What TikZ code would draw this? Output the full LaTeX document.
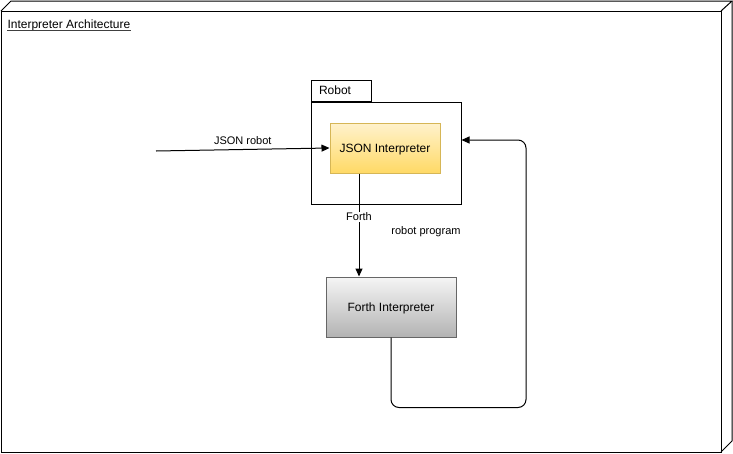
\documentclass[tikz,border=0pt]{standalone}
\usepackage{fontspec}
\setmainfont{Liberation Sans}
\usepackage{xcolor}
\usepackage{tikz}
\usetikzlibrary{arrows.meta,positioning,calc}

\definecolor{jsonfill}{HTML}{FFF2CC}
\definecolor{jsongrad}{HTML}{FFD966}
\definecolor{jsonline}{HTML}{D6B656}
\definecolor{forthfill}{HTML}{F5F5F5}
\definecolor{forthgrad}{HTML}{B3B3B3}
\definecolor{forthline}{HTML}{666666}

\begin{document}
\begin{tikzpicture}[
            x=1pt, y=-1pt, line width=1pt,
            box/.style={draw, rectangle, align=center, text depth=0pt, font=\fontsize{12}{14}\selectfont},
            pkg/.style={draw, rectangle, inner sep=0pt},
            lbl/.style={font=\fontsize{11}{13}\selectfont, text depth=0pt, inner sep=1pt},
            arr/.style={-{Triangle[length=8pt,width=7pt]}}
            ]
            \useasboundingbox (0,0) rectangle (733,453);

            % Outer node (3D box)
            \draw (1,11) rectangle (721,452);
            \draw (1,11) -- (11,1) -- (732,1) -- (721,11);
            \draw (732,1) -- (732,441) -- (721,452);
            \node[anchor=west, font=\fontsize{12}{14}\selectfont, text depth=0pt, inner sep=0pt] (title) at (7,24) {Interpreter Architecture};
            \draw[line width=0.8pt, black!75] ([yshift=-2pt]title.south west) -- ([yshift=-2pt]title.south east);

            % Robot package
            \node[pkg, minimum width=150pt, minimum height=102pt] (body) at (386,153) {};
            \node[pkg, minimum width=60pt, minimum height=21pt, anchor=south west] (tab) at (body.north west) {};
            \node[anchor=west, font=\fontsize{12}{14}\selectfont, text depth=0pt, inner sep=0pt] (robot) at ([xshift=8pt]tab.west) {Robot};

            % Interpreters
            \node[box, draw=jsonline, top color=jsonfill, bottom color=jsongrad,
                  minimum width=110pt, minimum height=50pt] (json) at (385,148) {JSON Interpreter};
            \node[box, draw=forthline, top color=forthfill, bottom color=forthgrad,
                  minimum width=130pt, minimum height=60pt] (forth) at (391,307) {Forth Interpreter};

            % Arrows
            \coordinate (in) at (156,151);
            \draw[arr] (in) -- (json.west) node[lbl, midway, above=4pt] {JSON robot};
            \draw[arr] ([xshift=-26pt]json.south) -- ([xshift=-26pt]json.south |- forth.north)
                  node[lbl, pos=0.42, fill=white] {Forth};
            \draw[arr, rounded corners=8pt] (forth.south) -- ++(0,70) -- ++(135,0) |- ([yshift=13pt]body.east);
            \node[lbl] (prog) at (426,231) {robot program};
        \end{tikzpicture}
\end{document}
